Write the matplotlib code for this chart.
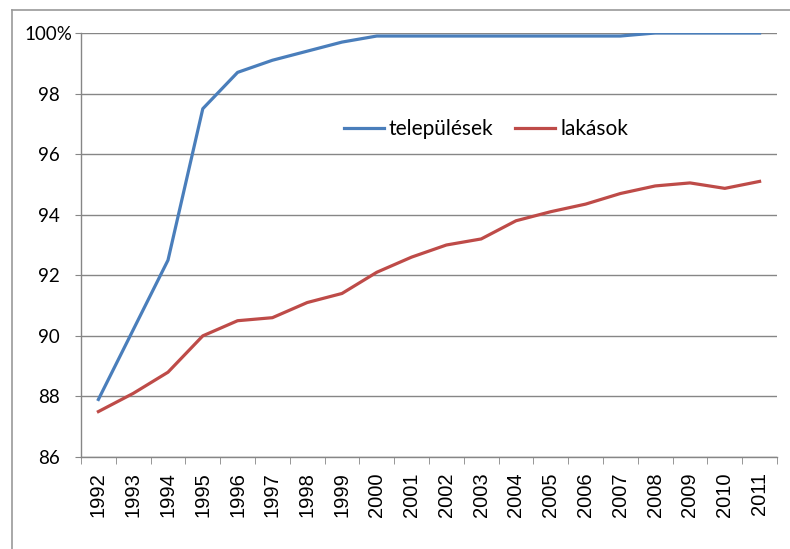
import numpy as np
import matplotlib.pyplot as plt
from matplotlib.lines import Line2D
from matplotlib.transforms import ScaledTranslation

years = [str(y) for y in range(1992, 2012)]
telepulesek = [87.9, 90.2, 92.5, 97.5, 98.7, 99.1, 99.4, 99.7, 99.9, 99.9,
               99.9, 99.9, 99.9, 99.9, 99.9, 99.9, 100.0, 100.0, 100.0, 100.0]
lakasok = [87.5, 88.1, 88.8, 90.0, 90.5, 90.6, 91.1, 91.4, 92.1, 92.6,
           93.0, 93.2, 93.8, 94.1, 94.35, 94.7, 94.95, 95.05, 94.87, 95.1]
yticks = [86, 88, 90, 92, 94, 96, 98, 100]
ytick_labels = ["86", "88", "90", "92", "94", "96", "98", "100%"]

fig = plt.figure(figsize=(7.9, 5.49), dpi=100)
ax = fig.add_axes([81 / 790, 1 - 457 / 549, 696 / 790, 424 / 549])

x = np.arange(len(years))
ax.plot(x, telepulesek, color="#4A7EBB", lw=2.3, label="települések",
        solid_joinstyle="round")
ax.plot(x, lakasok, color="#BE4B48", lw=2.3, label="lakások",
        solid_joinstyle="round")

ax.set_xlim(-0.5, len(years) - 0.5)
ax.set_ylim(86, 100)

# y axis (numbers sit further left than the "100%" label, as in Excel)
ax.set_yticks(yticks)
labels = ax.set_yticklabels(ytick_labels, fontfamily="Lato", fontsize=13.5)
ax.tick_params(axis="y", length=4, color="#868686", pad=2)
shift = ScaledTranslation(-13 / 100, 0, fig.dpi_scale_trans)
for lab in labels:
    if not lab.get_text().endswith("%"):
        lab.set_transform(lab.get_transform() + shift)
ax.grid(axis="y", color="#868686", lw=1)
ax.set_axisbelow(True)

# category axis: labels centred, ticks between categories
ax.set_xticks(x)
ax.set_xticklabels(years, rotation=90, fontfamily="Liberation Sans", fontsize=14.5)
ax.tick_params(axis="x", which="major", length=0, pad=11)
ax.set_xticks(np.arange(-0.5, len(years), 1), minor=True)
ax.tick_params(axis="x", which="minor", length=5, color="#868686")

for s in ["top", "right"]:
    ax.spines[s].set_visible(False)
for s in ["left", "bottom"]:
    ax.spines[s].set_color("#868686")
    ax.spines[s].set_linewidth(1)

ax.legend(loc="center", bbox_to_anchor=(0.582, 0.773), ncol=2, frameon=False,
          prop={"family": "Lato", "size": 15}, handlelength=1.9,
          handletextpad=0.25, columnspacing=1.05)

# outer chart border
fig.add_artist(Line2D([12 / 790, 12 / 790], [0, 1 - 10 / 549], color="#9a9a9a", lw=1.2))
fig.add_artist(Line2D([12 / 790, 1], [1 - 10 / 549, 1 - 10 / 549], color="#9a9a9a", lw=1.2))

fig.savefig("out.png", dpi=100)
